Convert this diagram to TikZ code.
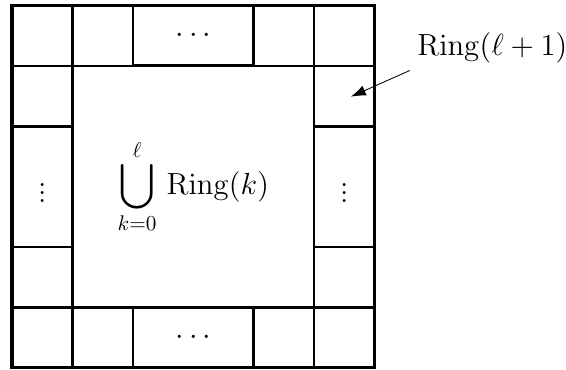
\documentclass[tikz,border=0pt]{standalone}
\usepackage{tikz}
\usetikzlibrary{arrows.meta, positioning}

\newcommand{\bigunion}{\mathop{\vcenter{\hbox{\scalebox{1.5}{$\displaystyle\bigcup$}}}}\limits}

\begin{document}
\begin{tikzpicture}[
  cell/.style={draw, line width=1.1pt, anchor=south west, inner sep=0pt, outer sep=0pt, minimum width=1cm, minimum height=1cm},
  wide/.style={cell, line width=1.3pt, minimum width=2cm},
  tall/.style={cell, line width=1.3pt, minimum height=2cm},
  core/.style={cell, minimum width=4cm, minimum height=4cm, align=center}
]
  \useasboundingbox (-0.2, -0.02) rectangle (9.17, 6.09);

  % inner block
  \node[core] (inner) at (1, 1) {\Large $\displaystyle\bigunion_{k=0}^{\ell}\,\mathrm{Ring}(k)$};

  % corner and edge cells
  \foreach \x/\y [count=\i] in {0/5, 1/5, 4/5, 5/5, 0/0, 1/0, 4/0, 5/0, 0/4, 0/1, 5/4, 5/1}
    \node[cell] (c\i) at (\x, \y) {};

  % merged cells with dots
  \node[wide] (top) at (2, 5) {\Large $\cdots$};
  \node[wide] (bottom) at (2, 0) {\Large $\cdots$};
  \node[tall] (left) at (0, 2) {\Large $\vdots$};
  \node[tall] (right) at (5, 2) {\Large $\vdots$};

  \draw[line width=1.5pt] (0, 0) rectangle (6, 6);

  % label for the next ring
  \node (ringnext) at (7.95, 5.30) {\Large $\mathrm{Ring}(\ell+1)$};
  \coordinate (tip) at (5.61, 4.49);
  \draw[-{Latex[length=7pt, width=5pt]}, thin] (ringnext.south west) -- (tip);
\end{tikzpicture}
\end{document}
